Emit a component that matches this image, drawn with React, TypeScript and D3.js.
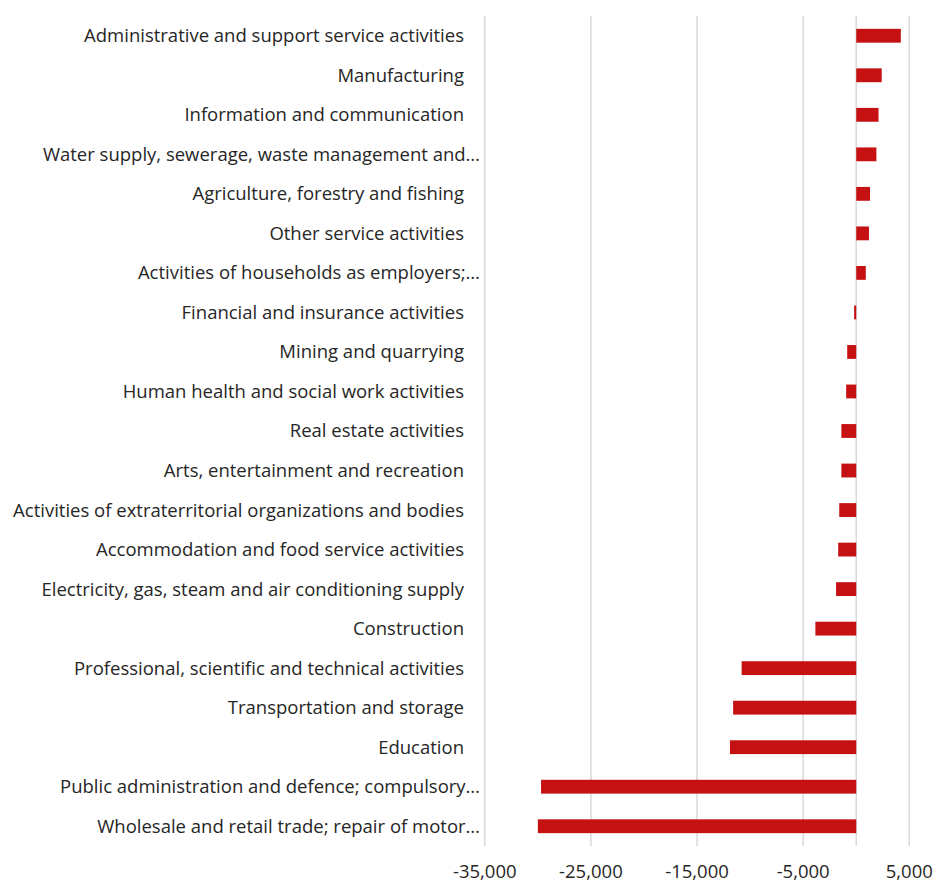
import React from "react";
import * as d3 from "d3";

const categories = [
  "Administrative and support service activities",
  "Manufacturing",
  "Information and communication",
  "Water supply, sewerage, waste management and…",
  "Agriculture, forestry and fishing",
  "Other service activities",
  "Activities of households as employers;…",
  "Financial and insurance activities",
  "Mining and quarrying",
  "Human health and social work activities",
  "Real estate activities",
  "Arts, entertainment and recreation",
  "Activities of extraterritorial organizations and bodies",
  "Accommodation and food service activities",
  "Electricity, gas, steam and air conditioning supply",
  "Construction",
  "Professional, scientific and technical activities",
  "Transportation and storage",
  "Education",
  "Public administration and defence; compulsory…",
  "Wholesale and retail trade; repair of motor…",
];

const values = [
  4200, 2400, 2100, 1900, 1300, 1200, 900, -200, -850, -950, -1400, -1400,
  -1600, -1700, -1900, -3850, -10800, -11600, -11900, -29700, -30000,
];

const tickValues = [-35000, -25000, -15000, -5000, 5000];

const W = 936;
const H = 882;

export default function App() {
  const x = d3.scaleLinear().domain([-35000, 5000]).range([484.8, 909.3]);
  const y = d3
    .scaleBand<string>()
    .domain(categories)
    .range([16, 846])
    .paddingInner(0.65)
    .paddingOuter(0.325);
  const fmt = d3.formatLocale({
    decimal: ".",
    thousands: ",",
    grouping: [3],
    currency: ["", ""],
    minus: "-",
  }).format(",");
  const font = "'Open Sans', sans-serif";
  const x0 = x(0);

  return (
    <svg
      width={W}
      height={H}
      style={{ position: "absolute", left: 0, top: 0, background: "#fff" }}
    >
      {tickValues.map((t) => (
        <line
          key={"g" + t}
          x1={x(t)}
          x2={x(t)}
          y1={16}
          y2={846}
          stroke="#D9D9D9"
          strokeWidth={1.5}
        />
      ))}
      <line x1={x0} x2={x0} y1={16} y2={846} stroke="#D9D9D9" strokeWidth={1.5} />
      {categories.map((c, i) => {
        const v = values[i];
        const bx = Math.min(x(v), x0);
        const bw = Math.abs(x(v) - x0);
        return (
          <rect
            key={"b" + c}
            x={bx}
            y={y(c)!}
            width={bw}
            height={y.bandwidth()}
            fill="#C51111"
          />
        );
      })}
      {categories.map((c) => {
        const trunc = c.endsWith("…");
        return (
          <text
            key={"l" + c}
            x={trunc ? 480 : 464}
            y={y(c)! + y.bandwidth() / 2}
            dy="0.35em"
            textAnchor="end"
            fontFamily={font}
            fontSize={18.5}
            fill="#262626"
          >
            {c}
          </text>
        );
      })}
      {tickValues.map((t) => (
        <text
          key={"t" + t}
          x={x(t)}
          y={872}
          dy="0.35em"
          textAnchor="middle"
          fontFamily={font}
          fontSize={18.5}
          fill="#262626"
        >
          {fmt(t)}
        </text>
      ))}
    </svg>
  );
}
